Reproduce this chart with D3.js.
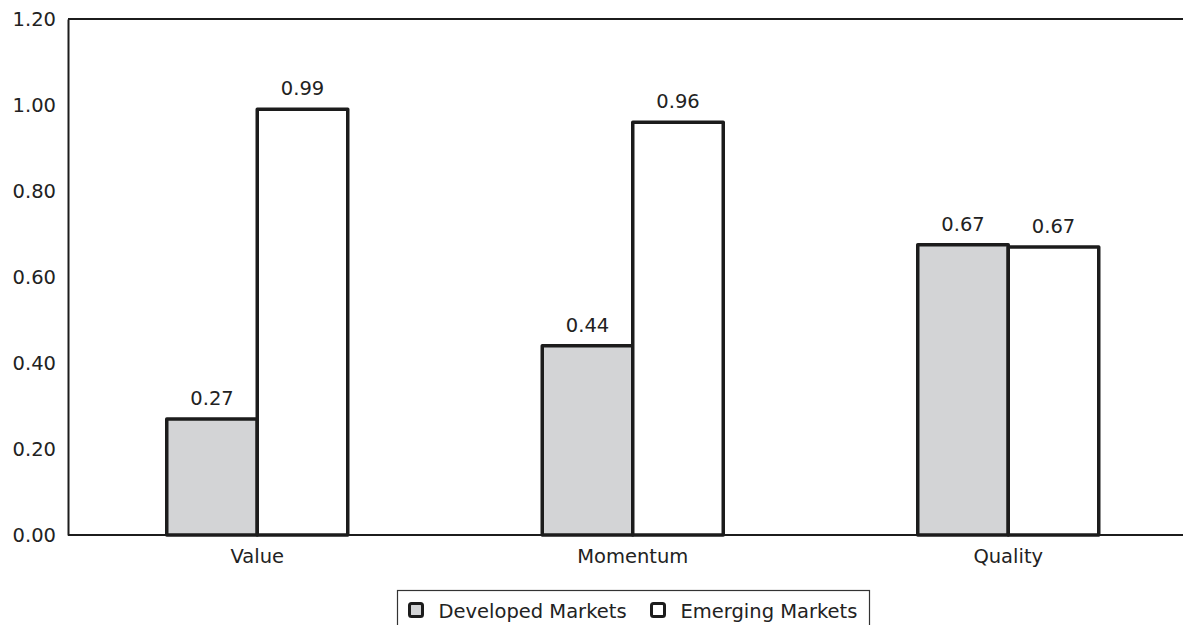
<!DOCTYPE html>
<html>
<head>
<meta charset="utf-8">
<script src="https://cdn.jsdelivr.net/npm/d3@7"></script>
<style>
  html, body { margin: 0; padding: 0; background: #fff; }
  svg { display: block; font-family: "DejaVu Sans", sans-serif; }
</style>
</head>
<body>
<div id="chart"></div>
<script>
const categories = ["Value", "Momentum", "Quality"];
const seriesNames = ["Developed Markets", "Emerging Markets"];
const developed = [0.27, 0.44, 0.675];
const emerging = [0.99, 0.96, 0.67];
const valueLabels = [["0.27", "0.44", "0.67"], ["0.99", "0.96", "0.67"]];
const yTicks = [0, 0.2, 0.4, 0.6, 0.8, 1.0, 1.2];

const svgWidth = 1183;
const svgHeight = 625;
const margin = { top: 19, right: 0, bottom: 90, left: 68 };
const fills = ["#d3d4d6", "#ffffff"];
const ink = "#1c1c1c";
const fontSize = 19.5;

const svg = d3.select("#chart")
	.append("svg")
	.attr("width", svgWidth)
	.attr("height", svgHeight);

const data = categories.map((c, i) => ({
	category: c,
	values: [developed[i], emerging[i]],
	labels: [valueLabels[0][i], valueLabels[1][i]],
}));

const x0 = d3.scaleBand()
	.domain(categories)
	.range([69.5, 1196])
	.paddingInner(0)
	.paddingOuter(0);

const barW = 90.5;
const x1 = d3.scaleBand()
	.domain([0, 1])
	.range([-barW, barW]);

const y = d3.scaleLinear()
	.domain([0, 1.2])
	.range([svgHeight - margin.bottom, margin.top]);

const plotBottom = y(0);

// frame: top line, left axis
svg.append("line")
	.attr("x1", margin.left).attr("x2", svgWidth)
	.attr("y1", y(1.2)).attr("y2", y(1.2))
	.attr("stroke", ink).attr("stroke-width", 2);

const yAxis = svg.append("g")
	.attr("transform", `translate(${margin.left},0)`)
	.call(d3.axisLeft(y).tickValues(yTicks).tickSize(0).tickPadding(12).tickFormat(d3.format(".2f")));
yAxis.select(".domain").attr("stroke", ink).attr("stroke-width", 2);
yAxis.selectAll("text")
	.attr("font-size", fontSize)
	.attr("fill", "#222")
	.attr("font-family", "DejaVu Sans, sans-serif");

const xAxis = svg.append("g")
	.attr("transform", `translate(0,${plotBottom})`)
	.call(d3.axisBottom(x0).tickSize(0).tickPadding(14));
xAxis.select(".domain")
	.attr("d", `M${margin.left},0H${svgWidth}`)
	.attr("stroke", ink).attr("stroke-width", 2);
xAxis.selectAll("text")
	.attr("font-size", fontSize)
	.attr("fill", "#222")
	.attr("font-family", "DejaVu Sans, sans-serif");

// bars
const groups = svg.append("g")
	.selectAll("g")
	.data(data)
	.join("g")
	.attr("transform", (d) => `translate(${x0(d.category) + x0.bandwidth() / 2},0)`);

groups.selectAll("rect")
	.data((d) => d.values.map((v, j) => ({ v, j })))
	.join("rect")
	.attr("x", (d) => x1(d.j))
	.attr("y", (d) => y(d.v))
	.attr("width", x1.bandwidth())
	.attr("height", (d) => plotBottom - y(d.v))
	.attr("fill", (d) => fills[d.j])
	.attr("stroke", ink)
	.attr("stroke-width", 3.5)
	.attr("stroke-linejoin", "round");

groups.selectAll("text.val")
	.data((d) => d.values.map((v, j) => ({ v, j, label: d.labels[j] })))
	.join("text")
	.attr("class", "val")
	.attr("x", (d) => x1(d.j) + x1.bandwidth() / 2)
	.attr("y", (d) => y(d.v) - 14)
	.attr("text-anchor", "middle")
	.attr("font-size", fontSize)
	.attr("fill", "#222")
	.text((d) => d.label);

// legend
const legend = svg.append("g").attr("transform", "translate(397.5,590.5)");
legend.append("rect")
	.attr("width", 472)
	.attr("height", 40)
	.attr("fill", "#fff")
	.attr("stroke", "#333")
	.attr("stroke-width", 1.2);

const legendX = [12, 254];
seriesNames.forEach((name, i) => {
	const row = legend.append("g").attr("transform", `translate(${legendX[i]},13)`);
	row.append("rect")
		.attr("width", 13)
		.attr("height", 13)
		.attr("rx", 2)
		.attr("fill", fills[i])
		.attr("stroke", ink)
		.attr("stroke-width", 3);
	row.append("text")
		.attr("x", 29)
		.attr("y", 14)
		.attr("font-size", fontSize)
		.attr("fill", "#222")
		.text(name);
});
</script>
</body>
</html>
